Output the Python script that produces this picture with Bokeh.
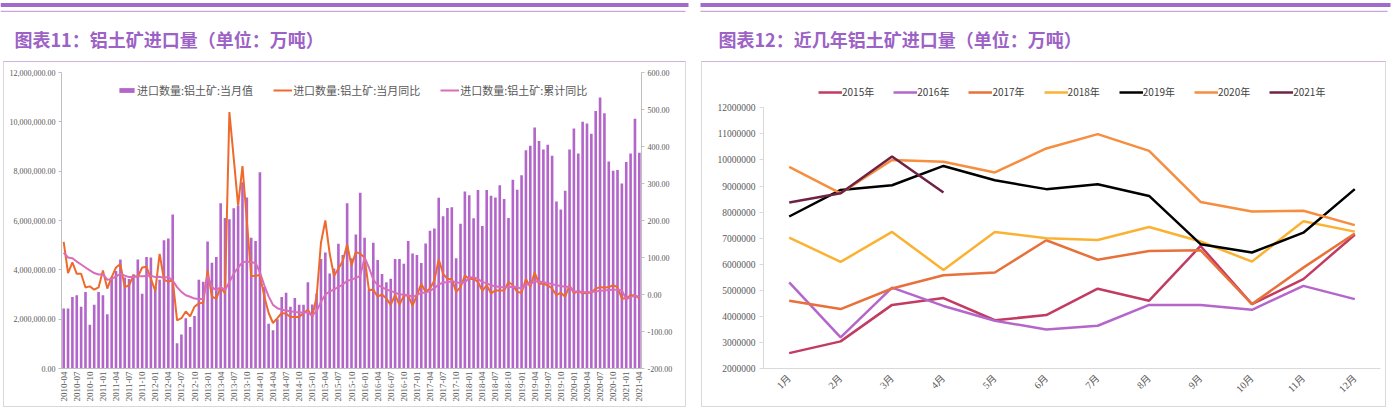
import numpy as np
from bokeh.plotting import figure
from bokeh.models import (ColumnDataSource, Range1d, LinearAxis, FixedTicker,
                          NumeralTickFormatter, Legend, LegendItem, Label)
from bokeh.layouts import row, column
from bokeh.embed import file_html
from bokeh.resources import INLINE

# ---------------- data (million tonnes / percent) ----------------
# monthly bauxite imports, 2010-04 .. 2014-12
imp_2010 = [2.43, 2.43, 2.90, 2.97, 2.50, 3.10, 1.77, 2.58, 3.10]          # Apr-Dec
imp_2011 = [2.97, 2.20, 3.70, 3.95, 4.42, 3.69, 3.63, 3.82, 4.42, 3.03, 4.52, 4.50]
imp_2012 = [3.30, 3.60, 5.20, 5.27, 6.24, 1.02, 1.38, 2.04, 1.68, 2.13, 3.60, 3.52]
imp_2013 = [5.15, 4.29, 4.52, 6.70, 6.10, 6.05, 6.50, 6.60, 7.55, 6.93, 5.30, 5.17]
imp_2014 = [7.96, 3.30, 1.81, 1.55, 2.00, 2.90, 3.07, 2.50, 2.86, 2.58, 2.58, 3.50]
# 2015-2021 (also used for the bars)
imp_2015 = [2.59, 3.04, 4.44, 4.70, 3.85, 4.05, 5.06, 4.60, 6.70, 4.47, 5.43, 7.13]
imp_2016 = [5.30, 3.19, 5.10, 4.40, 3.83, 3.50, 3.64, 4.44, 4.44, 4.25, 5.17, 4.66]
imp_2017 = [4.60, 4.28, 5.07, 5.58, 5.68, 6.92, 6.17, 6.51, 6.54, 4.47, 5.87, 7.18]
imp_2018 = [7.02, 6.09, 7.24, 5.78, 7.24, 7.00, 6.93, 7.43, 6.87, 6.10, 7.65, 7.25]
imp_2019 = [7.83, 8.85, 9.03, 9.77, 9.22, 8.88, 9.07, 8.62, 6.77, 6.45, 7.21, 8.88]
imp_2020 = [9.73, 8.72, 10.00, 9.93, 9.52, 10.44, 10.99, 10.35, 8.39, 8.02, 8.05, 7.50]
imp_2021 = [8.37, 8.72, 10.13, 8.75]

# 当月同比 (%)
yoy_2010 = [142, 58, 87, 56, 56, 19, 22, 13, 19]
yoy_2011 = [65, 16, 47, 73, 82, 20, 25, 51, 47, 73, 75, 42]
yoy_2012 = [10, 110, 40, 34, 40, -70, -64, -46, -59, -33, -24, -22]
yoy_2013 = [65, -6, -11, 20, 3, 493, 367, 240, 347, 200, 51, 50]
yoy_2014 = [53, -5, -50, -77, -64, -50, -52, -61, -61, -61, -50, -41]
yoy_2015 = [-60, -6, 140, 200, 110, 50, 70, 90, 135, 78, 115, 110]
yoy_2016 = [100, 12, 13, -6, 0, -11, -28, -1, -28, -3, -3, -31]
yoy_2017 = [-2, 29, 7, 16, 38, 95, 56, 42, 42, 7, 20, 51]
yoy_2018 = [42, 42, 34, 10, 25, 3, 11, 11, 11, 34, 25, 7]
yoy_2019 = [5, 42, 20, 60, 29, 29, 25, 16, -2, 5, -6, 25]
yoy_2020 = [3, 10, 3, 5, 5, 16, 20, 18, 20, 25, 20, -11]
yoy_2021 = [-11, -2, -2, -11]

# 累计同比 (%)
cum_2010 = [113, 100, 98, 89, 81, 73, 65, 58, 54]
cum_2011 = [55, 40, 42, 49, 56, 51, 47, 47, 49, 49, 50, 51]
cum_2012 = [47, 48, 45, 47, 38, 20, 7, -2, -6, -11, -12, -12]
cum_2013 = [51, 20, 12, 20, 12, 34, 56, 73, 87, 89, 87, 85]
cum_2014 = [60, 25, -5, -28, -37, -41, -43, -45, -47, -48, -49, -48]
cum_2015 = [-57, -45, -20, 0, 8, 14, 20, 27, 37, 40, 45, 50]
cum_2016 = [100, 73, 40, 25, 20, 13, 10, 5, 0, 0, -2, -6]
cum_2017 = [-2, 5, 5, 10, 17, 27, 32, 34, 36, 33, 31, 33]
cum_2018 = [45, 47, 42, 34, 30, 25, 22, 20, 19, 20, 21, 20]
cum_2019 = [15, 27, 28, 36, 35, 33, 31, 28, 25, 23, 21, 21]
cum_2020 = [8, 8, 7, 6, 7, 8, 10, 11, 12, 13, 13, 11]
cum_2021 = [-13, -7, -3, -6]

month_names = ["1月", "2月", "3月", "4月", "5月", "6月", "7月", "8月", "9月", "10月", "11月", "12月"]
year_names = ["2015年", "2016年", "2017年", "2018年", "2019年", "2020年", "2021年"]
year_series = [imp_2015, imp_2016, imp_2017, imp_2018, imp_2019, imp_2020, imp_2021]
year_colors = ["#C13B62", "#B466CB", "#E8703A", "#FBB233", "#000000", "#F78D3E", "#6E2344"]

legend_left = ["进口数量:铝土矿:当月值", "进口数量:铝土矿:当月同比", "进口数量:铝土矿:累计同比"]
title_left = "图表11：铝土矿进口量（单位：万吨）"
title_right = "图表12：近几年铝土矿进口量（单位：万吨）"

# ---------------- build series ----------------
imports = sum([imp_2010, imp_2011, imp_2012, imp_2013, imp_2014, imp_2015, imp_2016,
               imp_2017, imp_2018, imp_2019, imp_2020, imp_2021], [])
yoy = sum([yoy_2010, yoy_2011, yoy_2012, yoy_2013, yoy_2014, yoy_2015, yoy_2016,
           yoy_2017, yoy_2018, yoy_2019, yoy_2020, yoy_2021], [])
cum = sum([cum_2010, cum_2011, cum_2012, cum_2013, cum_2014, cum_2015, cum_2016,
           cum_2017, cum_2018, cum_2019, cum_2020, cum_2021], [])
n = len(imports)
xs = list(range(n))
date_labels = {}
for i in range(0, n, 3):
    yr = 2010 + (3 + i) // 12
    mo = (3 + i) % 12 + 1
    date_labels[i] = f"{yr}-{mo:02d}"

src = ColumnDataSource(dict(x=xs, v=[v * 1e6 for v in imports], yoy=yoy, cum=cum))

# ---------------- style constants ----------------
TOTAL_W, HEAD_H, CH = 1400, 61, 346
AX = "#BFBFBF"
LBL = "#595959"
SERIF = "Liberation Serif, Noto Sans CJK SC"
CJK = "Noto Sans CJK SC"
PURPLE = "#9C62C6"
BOX = "1px solid #D9D9D9"
BOX_TOP = "1px solid #D3B0E3"

# ---------------- header (bars + titles) ----------------
h = figure(width=TOTAL_W, height=HEAD_H, x_range=Range1d(0, TOTAL_W), y_range=Range1d(HEAD_H, 0),
           output_backend="svg", toolbar_location=None, min_border=0,
           x_axis_location=None, y_axis_location=None, outline_line_color=None)
h.grid.visible = False
h.quad(left=[0, 700], right=[688, 1390], top=2.5, bottom=6.6, fill_color="#9F6CCB", line_color=None)
h.quad(left=[0, 700], right=[685, 1387], top=10.2, bottom=11.6, fill_color="#C9A5DE", line_color=None)
for tx, t in [(14, title_left), (718, title_right)]:
    h.add_layout(Label(x=tx, y=38, text=t, text_font=CJK, text_font_size="18px",
                       text_font_style="bold", text_color=PURPLE, text_baseline="middle"))

# ---------------- left chart ----------------
p1 = figure(width=683, height=CH, x_range=Range1d(-0.5, n - 0.5), y_range=Range1d(0, 12e6),
            output_backend="svg", toolbar_location=None,
            min_border_left=57, min_border_right=46, min_border_top=9, min_border_bottom=35,
            outline_line_color=None,
            styles={"margin": "0px 7px 2px 3px", "border-left": BOX, "border-right": BOX,
                    "border-bottom": BOX, "border-top": BOX_TOP})
p1.extra_y_ranges = {"pct": Range1d(-200, 600)}
p1.grid.visible = False

r_bar = p1.vbar(x="x", top="v", width=0.6, source=src, fill_color="#B366C9", line_color=None)
r_yoy = p1.line(x="x", y="yoy", source=src, y_range_name="pct", line_color="#EE6A2C", line_width=2)
r_cum = p1.line(x="x", y="cum", source=src, y_range_name="pct", line_color="#DA6DBA", line_width=2)

p1.yaxis.ticker = FixedTicker(ticks=[0, 2e6, 4e6, 6e6, 8e6, 10e6, 12e6])
p1.yaxis.formatter = NumeralTickFormatter(format="0,0.00")
p1.xaxis.ticker = FixedTicker(ticks=list(date_labels.keys()))
p1.xaxis.major_label_overrides = date_labels
p1.xaxis.major_label_orientation = np.pi / 2
ax_r = LinearAxis(y_range_name="pct", ticker=FixedTicker(ticks=[-200, -100, 0, 100, 200, 300, 400, 500, 600]),
                  formatter=NumeralTickFormatter(format="0.00"))
p1.add_layout(ax_r, "right")
for ax in p1.axis:
    ax.axis_line_color = AX
    ax.major_tick_line_color = AX
    ax.minor_tick_line_color = None
    ax.major_label_text_color = LBL
    ax.major_label_text_font = SERIF
    ax.major_label_text_font_size = "8px"
p1.yaxis.major_tick_out = 3
p1.yaxis.major_tick_in = 0
p1.yaxis.major_label_standoff = 3
p1.xaxis.major_tick_out = 0
p1.xaxis.major_tick_in = 0
p1.xaxis.major_label_standoff = 3
p1.xaxis.major_label_text_font_size = "9px"

leg1 = Legend(items=[LegendItem(label=legend_left[0], renderers=[r_bar]),
                     LegendItem(label=legend_left[1], renderers=[r_yoy]),
                     LegendItem(label=legend_left[2], renderers=[r_cum])],
              orientation="horizontal", location=(56, 270), padding=0, margin=0,
              spacing=20, glyph_width=19, glyph_height=6, label_height=6, label_standoff=1,
              label_text_font=CJK, label_text_font_size="11px", label_text_color=LBL,
              label_text_baseline="middle", border_line_color=None, background_fill_alpha=0)
p1.add_layout(leg1)

# ---------------- right chart ----------------
p2 = figure(width=685, height=CH, x_range=Range1d(0.5, 12.5), y_range=Range1d(2e6, 13.354e6),
            output_backend="svg", toolbar_location=None,
            min_border_left=61, min_border_right=7, min_border_top=10, min_border_bottom=40,
            outline_line_color=None,
            styles={"margin": "0px 10px 2px 8px", "border-left": BOX, "border-right": BOX,
                    "border-bottom": BOX, "border-top": BOX_TOP})
p2.grid.visible = False
items = []
for name, vals, col in zip(year_names, year_series, year_colors):
    r = p2.line(x=list(range(1, len(vals) + 1)), y=[v * 1e6 for v in vals],
                line_color=col, line_width=2.5)
    items.append(LegendItem(label=name, renderers=[r]))

p2.yaxis.ticker = FixedTicker(ticks=[v * 1e6 for v in range(2, 13)])
p2.yaxis.bounds = (2e6, 12e6)
p2.yaxis.formatter = NumeralTickFormatter(format="0")
p2.xaxis.ticker = FixedTicker(ticks=list(range(1, 13)))
p2.xaxis.major_label_overrides = {i + 1: m for i, m in enumerate(month_names)}
p2.xaxis.major_label_orientation = np.pi / 4
for ax in p2.axis:
    ax.axis_line_color = "#D9D9D9"
    ax.major_tick_line_color = "#D9D9D9"
    ax.minor_tick_line_color = None
    ax.major_label_text_color = LBL
    ax.major_label_text_font = SERIF
    ax.major_label_text_font_size = "9.5px"
p2.yaxis.major_tick_out = 4
p2.yaxis.major_tick_in = 0
p2.yaxis.major_label_standoff = 4
p2.xaxis.major_tick_out = 0
p2.xaxis.major_tick_in = 0
p2.xaxis.major_label_standoff = 8
p2.xaxis.major_label_text_font_size = "10px"

leg2 = Legend(items=items, orientation="horizontal", location=(55, 269), padding=0, margin=0,
              spacing=19, glyph_width=24, glyph_height=6, label_height=6, label_standoff=0,
              label_text_font=CJK, label_text_font_size="10px", label_text_color="#404040",
              label_text_baseline="middle", border_line_color=None, background_fill_alpha=0)
p2.add_layout(leg2)

# ---------------- assemble ----------------
layout = column(h, row(p1, p2))

open("out.html", "w").write(file_html(layout, INLINE))
